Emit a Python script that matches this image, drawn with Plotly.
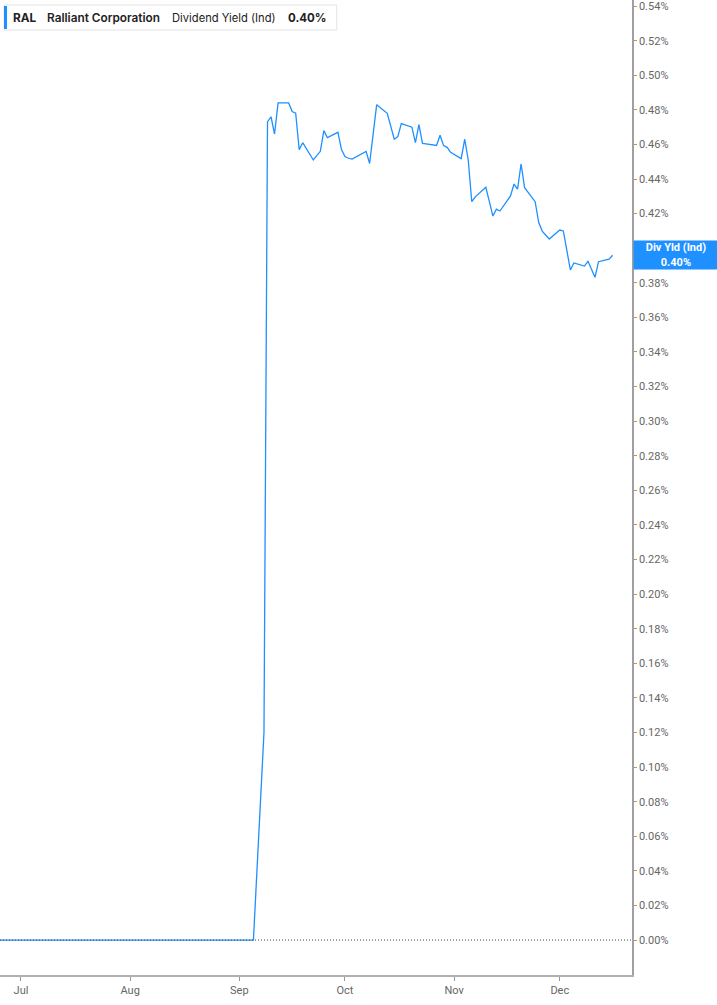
import plotly.graph_objects as go

# ---- data ----
dates = [
    "2025-06-24", "2025-09-05", "2025-09-08", "2025-09-09", "2025-09-10", "2025-09-11", "2025-09-12",
    "2025-09-15", "2025-09-16", "2025-09-17", "2025-09-18", "2025-09-19",
    "2025-09-22", "2025-09-23", "2025-09-24", "2025-09-25", "2025-09-26",
    "2025-09-29", "2025-09-30", "2025-10-01", "2025-10-02", "2025-10-03",
    "2025-10-06", "2025-10-07", "2025-10-08", "2025-10-09", "2025-10-10",
    "2025-10-13", "2025-10-14", "2025-10-15", "2025-10-16", "2025-10-17",
    "2025-10-20", "2025-10-21", "2025-10-22", "2025-10-23", "2025-10-24",
    "2025-10-27", "2025-10-28", "2025-10-29", "2025-10-30", "2025-10-31",
    "2025-11-03", "2025-11-04", "2025-11-05", "2025-11-06", "2025-11-07",
    "2025-11-10", "2025-11-11", "2025-11-12", "2025-11-13", "2025-11-14",
    "2025-11-17", "2025-11-18", "2025-11-19", "2025-11-20", "2025-11-21",
    "2025-11-24", "2025-11-25", "2025-11-26", "2025-11-28",
    "2025-12-01", "2025-12-02", "2025-12-03", "2025-12-04", "2025-12-05",
    "2025-12-08", "2025-12-09", "2025-12-10", "2025-12-11", "2025-12-12",
    "2025-12-15", "2025-12-16",
]
div_yield = [
    0.0, 0.0, 0.120, 0.473, 0.476, 0.466, 0.484,
    0.484, 0.479, 0.478, 0.457, 0.461,
    0.451, 0.4535, 0.456, 0.468, 0.464,
    0.467, 0.457, 0.453, 0.452, 0.4515,
    0.4548, 0.456, 0.449, 0.466, 0.483,
    0.478, 0.4705, 0.463, 0.4645, 0.472,
    0.470, 0.461, 0.4715, 0.4606, 0.4603,
    0.4594, 0.4653, 0.4593, 0.4583, 0.4554,
    0.4518, 0.4630, 0.4510, 0.4269, 0.4297,
    0.4352, 0.4269, 0.4186, 0.4226, 0.4215,
    0.4302, 0.4371, 0.4342, 0.4487, 0.4350,
    0.4269, 0.4150, 0.4099, 0.4053,
    0.4105, 0.4100, 0.3990, 0.3874, 0.3915,
    0.3897, 0.3924, 0.3880, 0.3832, 0.3922,
    0.3937, 0.3959,
]
month_ticks = ["2025-07-01", "2025-08-01", "2025-09-01", "2025-10-01", "2025-11-01", "2025-12-01"]
month_labels = ["Jul", "Aug", "Sep", "Oct", "Nov", "Dec"]
# right-axis ticks (0.40% is hidden behind the current-value label)
y_ticks = [0.00, 0.02, 0.04, 0.06, 0.08, 0.10, 0.12, 0.14, 0.16, 0.18, 0.20, 0.22, 0.24,
           0.26, 0.28, 0.30, 0.32, 0.34, 0.36, 0.38, 0.42, 0.44, 0.46, 0.48, 0.50, 0.52, 0.54]
y_tick_labels = ["%.2f%%" % v for v in y_ticks]
ticker = "RAL"
company = "Ralliant Corporation"
metric = "Dividend Yield (Ind)"
last_label = "0.40%"

BLUE = "#1E90FF"

fig = go.Figure()
fig.add_trace(go.Scatter(
    x=dates, y=div_yield, mode="lines",
    line=dict(color=BLUE, width=1.3),
    hoverinfo="skip", showlegend=False,
))

# zero dotted line
fig.add_shape(type="line", xref="paper", x0=0, x1=1, yref="y", y0=0, y1=0,
              line=dict(color="#444444", width=1, dash="1px,2px"), layer="above")

PW = 632.5
PH = 975.0

def px_x(v):
    return v / PW

def px_y(v):
    return 1 - v / PH

# legend box
fig.add_shape(type="rect", xref="paper", yref="paper",
              x0=px_x(4), x1=px_x(337), y0=px_y(30), y1=px_y(5),
              line=dict(color="#e3e3e3", width=1), fillcolor="white", layer="above")
fig.add_shape(type="rect", xref="paper", yref="paper",
              x0=px_x(4), x1=px_x(7), y0=px_y(29), y1=px_y(6),
              line=dict(width=0), fillcolor=BLUE, layer="above")

legend_parts = [
    (11, ticker, 700, 11.8),
    (45, company, 600, 11.8),
    (170, metric, 400, 11.2),
    (286, last_label, 700, 11.5),
]
for xpos, txt, w, sz in legend_parts:
    fig.add_annotation(xref="paper", yref="paper", x=px_x(xpos), y=px_y(17.5),
                       xanchor="left", yanchor="middle", showarrow=False,
                       text=txt, font=dict(family="Inter", size=sz, color="#222222", weight=w))

# last value label
fig.add_annotation(xref="paper", yref="y", x=1, y=div_yield[-1],
                   xanchor="left", yanchor="middle", showarrow=False, xshift=1,
                   text="<b>Div Yld (Ind)</b><br><b>" + last_label + "</b>",
                   font=dict(family="Roboto", size=11, color="white"),
                   bgcolor=BLUE, width=82, height=26, borderpad=1, align="center")

fig.update_layout(
    width=717, height=1005,
    margin=dict(l=0, r=717 - PW, t=0, b=1005 - PH, autoexpand=False),
    plot_bgcolor="white", paper_bgcolor="white",
    font=dict(family="Roboto", size=11, color="#666666"),
    xaxis=dict(
        type="date",
        range=["2025-06-25 01:00", "2025-12-21 12:00"],
        tickvals=month_ticks, ticktext=month_labels,
        ticks="outside", ticklen=4, tickcolor="#999999",
        showline=True, linecolor="#b0b0b0", linewidth=2,
        showgrid=False, zeroline=False,
        tickfont=dict(family="Roboto", size=11, color="#666666"),
    ),
    yaxis=dict(
        side="right",
        range=[-0.0202, 0.5435],
        tickvals=y_ticks, ticktext=y_tick_labels,
        ticks="outside", ticklen=3, tickcolor="#999999",
        ticklabeloverflow="allow",
        showline=True, linecolor="#a0a0a0", linewidth=1.5,
        showgrid=False, zeroline=False,
        tickfont=dict(family="Roboto", size=11, color="#666666"),
    ),
)

fig.write_html("out.html", config={"displayModeBar": False},
               post_script="document.body.style.margin='0px';document.body.style.overflow='hidden';")
